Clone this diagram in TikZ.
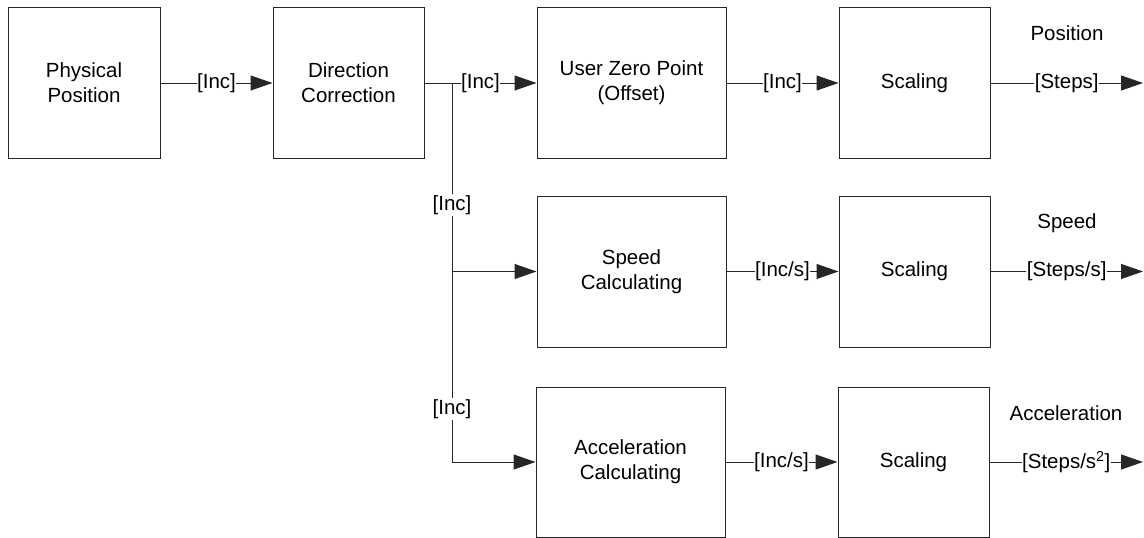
\documentclass[tikz,border=0pt]{standalone}
\usepackage{fontspec}
\setmainfont{Liberation Sans}
\usetikzlibrary{arrows.meta}
\begin{document}
\begin{tikzpicture}[x=1pt,y=-1pt,
  blk/.style={draw=black!85,line width=1pt,minimum height=151pt,inner sep=0pt,align=center,font=\fontsize{20.5}{25}\selectfont},
  lab/.style={fill=white,inner xsep=0.5pt,inner ysep=1pt,font=\fontsize{20.5}{25}\selectfont},
  ttl/.style={inner sep=0pt,font=\fontsize{20.5}{25}\selectfont},
  con/.style={line width=1pt,draw=black!85},
  arr/.style={con,-{Triangle[length=22pt,width=15pt]}}]
\useasboundingbox (0,0) rectangle (1144,538);
\node[blk,minimum width=152pt] (pp) at (84,83) {Physical\\Position};
\node[blk,minimum width=151pt] (dc) at (348.5,83) {Direction\\Correction};
\node[blk,minimum width=189pt] (uz) at (631.5,83) {User Zero Point\\(Offset)};
\node[blk,minimum width=151pt] (s1) at (914.5,83) {Scaling};
\node[blk,minimum width=189pt] (sp) at (631.5,271.5) {Speed\\Calculating};
\node[blk,minimum width=151pt] (s2) at (914.5,271.5) {Scaling};
\node[blk,minimum width=189pt,minimum height=150pt] (ac) at (630.5,462) {Acceleration\\Calculating};
\node[blk,minimum width=151pt,minimum height=150pt] (s3) at (913.5,462) {Scaling};
\coordinate (br) at (452,83);
\coordinate (o1) at (1143,83);
\coordinate (o2) at (1143,271.5);
\coordinate (o3) at (1143,462);
\draw[arr] (pp.east) -- node[lab]{[Inc]} (dc.west);
\draw[arr] (dc.east) -- (uz.west) node[lab,pos=0.5]{[Inc]};
\draw[arr] (uz.east) -- node[lab]{[Inc]} (s1.west);
\draw[arr] (s1.east) -- node[lab]{[Steps]} (o1);
\draw[con] (br) -- (br |- ac.west);
\draw[arr] (br |- sp.west) -- (sp.west);
\draw[arr] (br |- ac.west) -- (ac.west);
\node[lab] (l1) at (452,205) {[Inc]};
\node[lab] (l2) at (452,409) {[Inc]};
\draw[arr] (sp.east) -- node[lab]{[Inc/s]} (s2.west);
\draw[arr] (s2.east) -- node[lab]{[Steps/s]} (o2);
\draw[arr] (ac.east) -- node[lab]{[Inc/s]} (s3.west);
\draw[arr] (s3.east) -- node[lab]{[Steps/s\textsuperscript{2}]} (o3);
\node[ttl] (t1) at (1067,33) {Position};
\node[ttl] (t2) at (1067,223) {Speed};
\node[ttl] (t3) at (1066,413) {Acceleration};
\end{tikzpicture}
\end{document}
